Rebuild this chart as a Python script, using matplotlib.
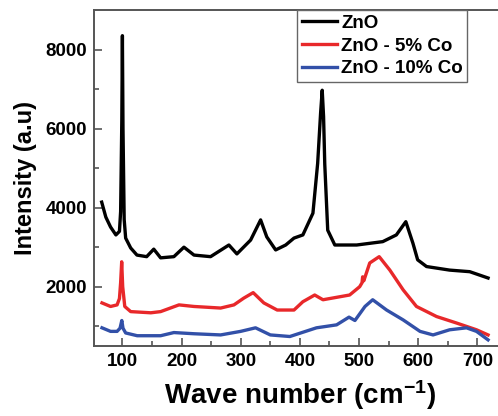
import numpy as np
import matplotlib
matplotlib.use("Agg")
import matplotlib.pyplot as plt

plt.rcParams['font.family'] = ['Liberation Sans', 'DejaVu Sans']
plt.rcParams['font.weight'] = 'bold'
plt.rcParams['mathtext.fontset'] = 'custom'
plt.rcParams['mathtext.bf'] = 'Liberation Sans:bold'
plt.rcParams['mathtext.rm'] = 'Liberation Sans:bold'
plt.rcParams['mathtext.default'] = 'bf'

# --- donnees ---
x_zno = [65, 72, 80, 89, 95, 97, 99, 100, 101, 103, 105.5, 114, 124.6, 141, 153,
         164.6, 187, 204, 221, 249, 280, 293.5, 316.7, 333.6, 344, 359, 376, 390,
         405, 422, 430, 435, 437.7, 440, 442, 447, 459, 496, 540, 563, 579, 591,
         599, 614, 653, 687, 718]
y_zno = [4140, 3760, 3510, 3310, 3400, 3900, 6200, 8350, 6000, 3700, 3230, 2980,
         2800, 2760, 2950, 2730, 2760, 3000, 2800, 2760, 3055, 2830, 3180, 3690,
         3260, 2930, 3055, 3230, 3310, 3860, 5120, 6400, 6970, 6300, 5100, 3430,
         3055, 3055, 3140, 3310, 3645, 3100, 2680, 2510, 2420, 2380, 2220]

x_co5 = [65.5, 80, 91, 95, 97, 98.8, 100.5, 104, 114, 148, 164.6, 195.6, 221, 266,
         288.5, 305, 321, 339, 361.6, 390, 405, 425, 439, 484, 501, 505, 506, 508,
         518, 534, 552, 574.5, 597, 631, 665, 698.5, 718]
y_co5 = [1590, 1500, 1540, 1700, 2100, 2630, 2000, 1500, 1370, 1340, 1370, 1540,
         1500, 1460, 1540, 1710, 1850, 1590, 1410, 1410, 1620, 1790, 1670, 1790,
         2000, 2100, 2250, 2150, 2600, 2760, 2420, 1920, 1500, 1245, 1080, 910, 780]

x_co10 = [65.5, 80, 91, 96, 99, 101, 105.5, 125, 164.6, 187, 221, 266, 299.8, 325,
          350, 383, 428, 462, 483, 493, 510, 523, 546.5, 574.5, 603, 625, 653,
          681.5, 698.5, 718]
y_co10 = [960, 870, 870, 950, 1145, 950, 830, 760, 760, 840, 810, 780, 870, 960,
          780, 740, 960, 1035, 1230, 1145, 1500, 1670, 1410, 1160, 870, 780, 910,
          960, 870, 655]

labels = ["ZnO", "ZnO - 5% Co", "ZnO - 10% Co"]

fig = plt.figure(figsize=(4.98, 4.16), dpi=100)
ax = fig.add_axes([94 / 498, 70 / 416, 413 / 498, 336 / 416])

ax.plot(x_zno, y_zno, color='black', lw=2.4, label=labels[0])
ax.plot(x_co5, y_co5, color='#e8282a', lw=2.4, label=labels[1])
ax.plot(x_co10, y_co10, color='#3250a8', lw=2.4, label=labels[2])

ax.set_xlim(52, 750)
ax.set_ylim(500, 9000)
ax.set_xticks([100, 200, 300, 400, 500, 600, 700])
ax.set_xticks(np.arange(150, 751, 100), minor=True)
ax.set_yticks([2000, 4000, 6000, 8000])
ax.set_yticks([1000, 3000, 5000, 7000], minor=True)
ax.tick_params(which='major', direction='in', length=6, width=1.2,
               labelsize=13.5, color='#555555', pad=5)
ax.tick_params(which='minor', direction='in', length=3.5, width=1.2,
               color='#555555')
for lab in ax.get_xticklabels() + ax.get_yticklabels():
    lab.set_fontweight('bold')
for sp in ax.spines.values():
    sp.set_color('#555555')
    sp.set_linewidth(1.4)

ax.set_xlabel("Wave number (cm$^{\\mathbf{-1}}$)", fontsize=20, fontweight='bold', labelpad=6)
ax.set_ylabel("Intensity (a.u)", fontsize=17, fontweight='bold', labelpad=6)

leg = ax.legend(loc='upper left', bbox_to_anchor=(0.4915, 1.0), borderaxespad=0,
                fancybox=False, framealpha=1, edgecolor='#666666',
                prop={'weight': 'bold', 'size': 13.5}, handlelength=1.9,
                handletextpad=0.2, labelspacing=0.3, borderpad=0.25)
leg.get_frame().set_linewidth(1.0)

fig.savefig("out.png", dpi=100)
